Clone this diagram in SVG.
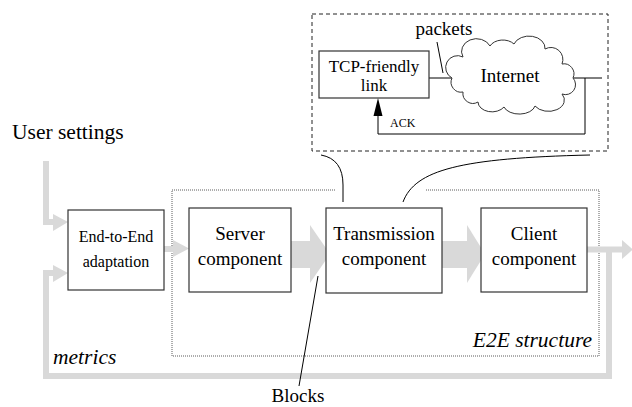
<svg xmlns="http://www.w3.org/2000/svg" width="632" height="407" viewBox="0 0 632 407" font-family="'Liberation Serif', 'Times New Roman', Times, serif">
<style>
.box{fill:#fff;stroke:#333;stroke-width:1.2}
.ln{fill:none;stroke:#000;stroke-width:1}
.g{fill:none;stroke:#d9d9d9;stroke-width:6;stroke-linejoin:miter}
.gf{fill:#d9d9d9;stroke:none}
.it{font-style:italic;font-size:21.5px}
.m{text-anchor:middle}
</style>
<rect width="632" height="407" fill="#fff"/>
<g id="e2e-structure">
<path d="M335,190 L172,190 L172,356 L599,356 L599,190 L425,190" fill="none" stroke="#333" stroke-width="0.8" stroke-dasharray="1 1"/>
<text class="it" x="592" y="347" text-anchor="end" font-family="Liberation Serif, serif">E2E structure</text>
</g>
<g id="internet-detail">
<rect x="312" y="14" width="296" height="137" fill="none" stroke="#222" stroke-width="1" stroke-dasharray="4 3"/>
</g>
<g id="connectors">
<path class="g" d="M46,161 L46,222 L55,222"/>
<polygon class="gf" points="53,214 68,222 53,231"/>
<path class="g" d="M609,252 L609,376 L46,376 L46,273 L55,273"/>
<polygon class="gf" points="53,265 68,273 53,282"/>
<path class="g" d="M164,249 L175,249"/>
<polygon class="gf" points="173,240 189,248.5 173,257"/>
<rect class="gf" x="291" y="241" width="20" height="27"/>
<polygon class="gf" points="310,225 330,254 310,283"/>
<rect class="gf" x="442" y="241" width="26" height="27"/>
<polygon class="gf" points="467,225 485,254 467,283"/>
<path class="g" d="M587,249.5 L624,249.5"/>
<polygon class="gf" points="622,240 633,249.5 622,259"/>
<path class="ln" d="M429,78 L452,78 M573,78 L602,78"/>
<path class="ln" d="M585,78 L585,134 L378,134 L378,114"/>
<polygon points="373.5,116 378,98 382.5,116" fill="#000"/>
<path class="ln" d="M437,42 L443,73"/>
<path class="ln" d="M321,155 Q343,159 343,185 L343,202"/>
<path class="ln" d="M403,202 C415,170 460,158 590,155"/>
<path class="ln" d="M318,276 L299,386"/>
</g>
<g id="tcp-link" font-family="Liberation Serif, serif">
<rect class="box" x="319" y="51" width="110" height="47"/>
<text class="m" x="374" y="72" font-size="17">TCP-friendly</text>
<text class="m" x="374" y="91" font-size="17">link</text>
</g>
<g id="internet" font-family="Liberation Serif, serif">
<path d="M452,78 A10,10 0 0 1 463,57 A14,12 0 0 1 490,46 A14,10 0 0 1 514,44 A16,12 0 0 1 545,49 A12,12 0 0 1 562,64 A10,10 0 0 1 573,78 A10,10 0 0 1 562,94 A14,10 0 0 1 535,106 A16,10 0 0 1 504,107 A14,10 0 0 1 478,102 A10,10 0 0 1 463,92 A10,10 0 0 1 452,78 Z" fill="#fff" stroke="#333" stroke-width="1"/>
<text class="m" x="510" y="82" font-size="19">Internet</text>
</g>
<g id="labels" font-family="Liberation Serif, serif">
<text class="m" x="444" y="35" font-size="19">packets</text>
<text x="390" y="127" font-size="12">ACK</text>
<text x="12" y="139" font-size="21.5">User settings</text>
<text class="it" x="53" y="364">metrics</text>
<text class="m" x="298" y="402" font-size="19">Blocks</text>
</g>
<g id="e2e-adaptation" font-family="Liberation Serif, serif">
<rect class="box" x="68" y="210" width="96" height="80"/>
<text class="m" x="116" y="242" font-size="16">End-to-End</text>
<text class="m" x="116" y="267" font-size="16">adaptation</text>
</g>
<g id="server" font-family="Liberation Serif, serif">
<rect class="box" x="189" y="208" width="102" height="84"/>
<text class="m" x="240" y="240" font-size="19">Server</text>
<text class="m" x="240" y="265" font-size="19">component</text>
</g>
<g id="transmission" font-family="Liberation Serif, serif">
<rect class="box" x="326" y="208" width="116" height="85"/>
<text class="m" x="384" y="240" font-size="19">Transmission</text>
<text class="m" x="384" y="265" font-size="19">component</text>
</g>
<g id="client" font-family="Liberation Serif, serif">
<rect class="box" x="481" y="208" width="106" height="84"/>
<text class="m" x="534" y="240" font-size="19">Client</text>
<text class="m" x="534" y="265" font-size="19">component</text>
</g>
</svg>
